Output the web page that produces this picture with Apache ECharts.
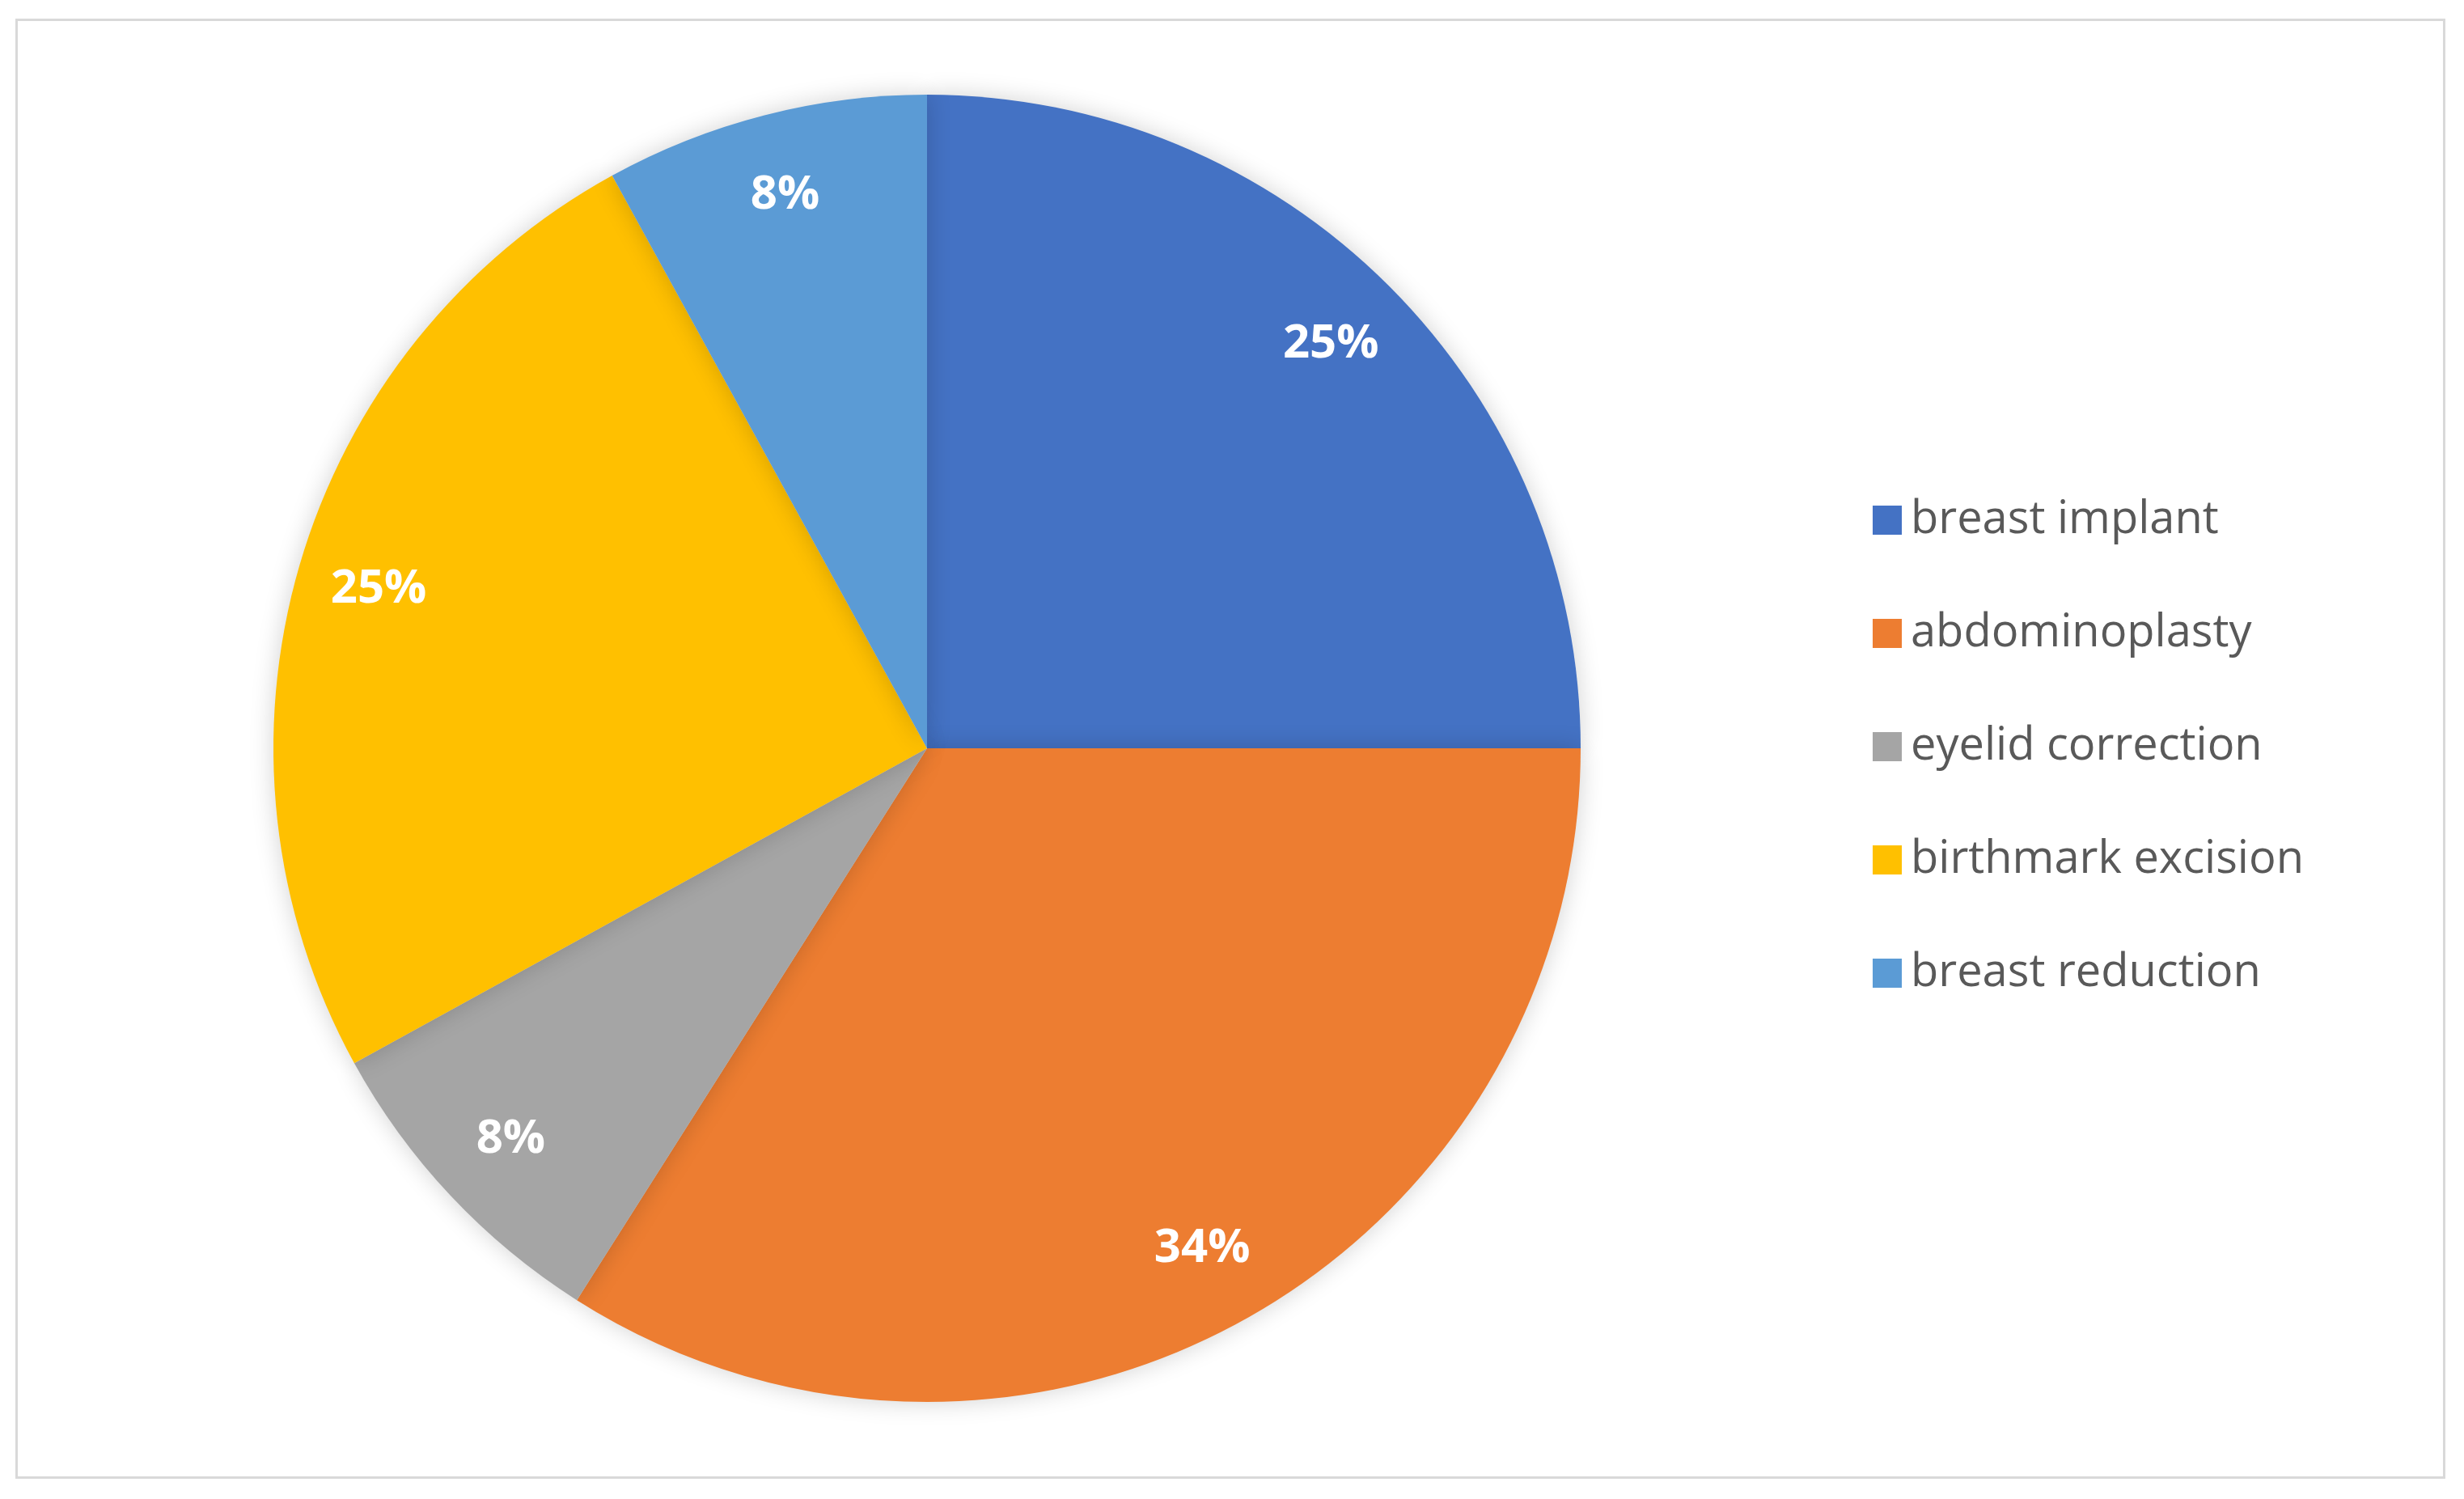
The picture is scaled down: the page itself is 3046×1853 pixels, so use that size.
<!DOCTYPE html>
<html>
<head>
<meta charset="utf-8">
<script src="https://cdn.jsdelivr.net/npm/echarts@6/dist/echarts.min.js"></script>
<style>
  html, body { margin: 0; padding: 0; background: #fff; }
  #frame { position: absolute; left: 19px; top: 23px; width: 2998px; height: 1799px; border: 3px solid #d9d9d9; }
  #chart { position: absolute; left: 0; top: 0; width: 3046px; height: 1853px; }
</style>
</head>
<body>
<div id="frame"></div>
<div id="chart"></div>
<script>
const categories = ['breast implant', 'abdominoplasty', 'eyelid correction', 'birthmark excision', 'breast reduction'];
const values = [25, 34, 8, 25, 8];
const colors = ['#4472c4', '#ed7d31', '#a5a5a5', '#ffc000', '#5b9bd5'];

const pieData = categories.map((name, i) => ({ name: name, value: values[i] }));

let chart = echarts.init(document.getElementById('chart'));
chart.setOption({
    color: colors,
    legend: {
        orient: 'vertical',
        left: 2310,
        top: 610,
        itemWidth: 36,
        itemHeight: 36,
        itemGap: 84,
        icon: 'rect',
        textStyle: { fontFamily: 'Open Sans', fontSize: 56, color: '#595959', padding: [0, 0, 0, 6] },
        data: categories
    },
    series: [
        {
            type: 'pie',
            center: [1146, 925],
            radius: [0, 808],
            startAngle: 90,
            clockwise: true,
            silent: true,
            label: { show: false },
            itemStyle: { shadowBlur: 30, shadowColor: 'rgba(0,0,0,0.18)' },
            data: pieData
        },
        {
            type: 'pie',
            center: [1146, 925],
            radius: [0, 1406],
            startAngle: 90,
            clockwise: true,
            silent: true,
            legendHoverLink: false,
            itemStyle: { color: 'rgba(0,0,0,0)' },
            label: {
                show: true,
                position: 'inside',
                formatter: p => p.value + '%',
                color: '#fff',
                fontFamily: 'Open Sans',
                fontWeight: 'bold',
                fontSize: 58
            },
            labelLine: { show: false },
            data: pieData
        }
    ]
});
</script>
</body>
</html>
